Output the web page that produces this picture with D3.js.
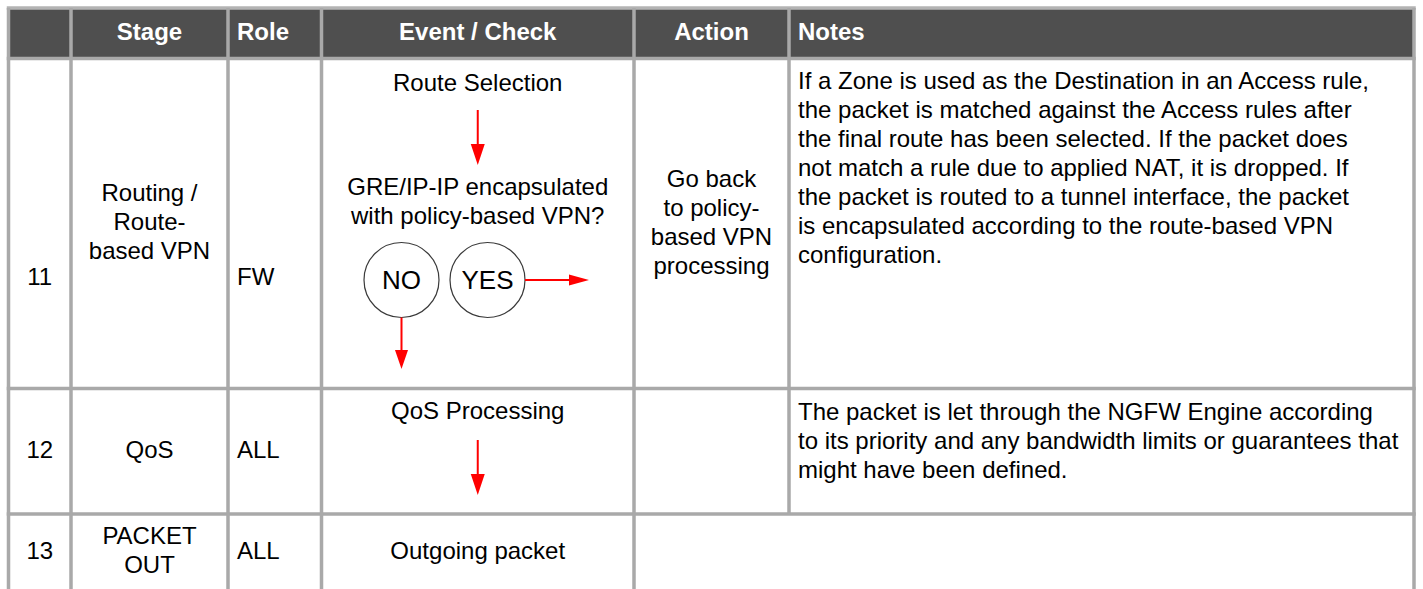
<!DOCTYPE html>
<html><head><meta charset="utf-8">
<script src="https://cdn.jsdelivr.net/npm/d3@7"></script>
<style>
html,body{margin:0;padding:0;background:#fff;}
svg{display:block;}
text{font-family:"Liberation Sans",Arial,Helvetica,sans-serif;}
</style></head>
<body>
<svg id="chart" width="1423" height="589"></svg>
<script>
// ---- data ----
const headers = ["", "Stage", "Role", "Event / Check", "Action", "Notes"];
const headerAlign = ["middle", "middle", "start", "middle", "middle", "start"];
const stepNumbers = ["11", "12", "13"];
const stages = [["Routing /", "Route-", "based VPN"], ["QoS"], ["PACKET", "OUT"]];
const roles = ["FW", "ALL", "ALL"];
const eventSteps = [
  ["Route Selection"],
  ["GRE/IP-IP encapsulated", "with policy-based VPN?"],
  ["QoS Processing"],
  ["Outgoing packet"]
];
const decisionChoices = ["NO", "YES"];
const actions = [["Go back", "to policy-", "based VPN", "processing"], [], []];
const notes = [
  ["If a Zone is used as the Destination in an Access rule,",
   "the packet is matched against the Access rules after",
   "the final route has been selected. If the packet does",
   "not match a rule due to applied NAT, it is dropped. If",
   "the packet is routed to a tunnel interface, the packet",
   "is encapsulated according to the route-based VPN",
   "configuration."],
  ["The packet is let through the NGFW Engine according",
   "to its priority and any bandwidth limits or guarantees that",
   "might have been defined."],
  []
];

// ---- layout ----
const colEdges = [8.5, 71, 228, 321.5, 634, 789, 1414];
const rowEdges = [8, 58.5, 388.5, 514, 589];
const LH = 29;          // line height
const FS = 24;          // font size
const DY = -1;          // vertical text nudge
const lineCol = "#a9a9a9";
const red = "#ff0000";

const svg = d3.select("#chart");
const colX = d3.scaleOrdinal().domain(d3.range(6)).range(colEdges.slice(0, 6));
const colW = i => colEdges[i + 1] - colEdges[i];
const colMid = i => colX(i) + colW(i) / 2;
const lineY = d3.scaleLinear().domain([0, 1]).range([0, LH]);

// header background
svg.append("rect").attr("x", colEdges[0]).attr("y", rowEdges[0])
  .attr("width", colEdges[6] - colEdges[0]).attr("height", rowEdges[1] - rowEdges[0])
  .attr("fill", "#4f4f4f");

// header texts
svg.append("g").selectAll("text").data(headers).join("text")
  .attr("x", (d, i) => headerAlign[i] === "middle" ? colMid(i) : colX(i) + 9)
  .attr("y", 32 + DY)
  .attr("text-anchor", (d, i) => headerAlign[i])
  .attr("dominant-baseline", "central")
  .attr("font-size", FS).attr("font-weight", "bold").attr("fill", "#fff")
  .text(d => d);

// grid lines
const g = svg.append("g").attr("stroke", lineCol).attr("stroke-width", 3.5).attr("fill", "none");
rowEdges.slice(0, 4).forEach((y, i) => {
  g.append("line").attr("x1", colEdges[0] - 1.75).attr("x2", colEdges[6] + 1.75)
    .attr("y1", y).attr("y2", y).attr("stroke", i === 0 ? "#b3b3b3" : lineCol);
});
colEdges.forEach((x, i) => {
  const yEnd = (i === 5) ? rowEdges[3] : 589;
  g.append("line").attr("x1", x).attr("x2", x).attr("y1", rowEdges[0]).attr("y2", yEnd);
});

// helper: multiline text
function lines(parent, arr, x, yCenter, anchor, size) {
  const n = arr.length;
  const t = parent.append("g");
  t.selectAll("text").data(arr).join("text")
    .attr("x", x)
    .attr("y", (d, i) => yCenter + DY + lineY(i - (n - 1) / 2))
    .attr("text-anchor", anchor)
    .attr("dominant-baseline", "central")
    .attr("font-size", size).attr("fill", "#000")
    .text(d => d);
  return t;
}

const body = svg.append("g");
const numY = [277, 450, 551];
const stageY = [222, 450, 551];
stepNumbers.forEach((s, r) => {
  lines(body, [s], colMid(0), numY[r], "middle", FS);
  lines(body, stages[r], colMid(1), stageY[r], "middle", FS);
  lines(body, [roles[r]], colX(2) + 9, numY[r], "start", FS);
  if (actions[r].length) lines(body, actions[r], colMid(4), 222.5, "middle", FS);
});

// notes
lines(body, notes[0], colX(5) + 9, 81 + lineY(3), "start", FS);
lines(body, notes[1], colX(5) + 9, 412 + lineY(1), "start", FS);

// event / check column
const ex = colMid(3);
lines(body, eventSteps[0], ex, 83, "middle", FS);
lines(body, eventSteps[1], ex, 187 + LH / 2, "middle", FS);
lines(body, eventSteps[2], ex, 411, "middle", FS);
lines(body, eventSteps[3], ex, 551, "middle", FS);

// arrows
function arrow(x1, y1, x2, y2, headLen, headW) {
  const a = Math.atan2(y2 - y1, x2 - x1);
  const bx = x2 - headLen * Math.cos(a), by = y2 - headLen * Math.sin(a);
  body.append("line").attr("x1", x1).attr("y1", y1).attr("x2", bx).attr("y2", by)
    .attr("stroke", red).attr("stroke-width", 2);
  const px = -Math.sin(a) * headW / 2, py = Math.cos(a) * headW / 2;
  body.append("path")
    .attr("d", `M${x2},${y2}L${bx + px},${by + py}L${bx - px},${by - py}Z`)
    .attr("fill", red);
}
arrow(ex, 110, ex, 165, 21, 14);
arrow(ex, 440, ex, 495, 21, 14);

// decision circles
const circX = d3.scalePoint().domain(decisionChoices).range([401.5, 487.5]);
const cy = 280, cr = 37.5;
body.selectAll("circle.dec").data(decisionChoices).join("circle")
  .attr("class", "dec").attr("cx", d => circX(d)).attr("cy", cy).attr("r", cr)
  .attr("fill", "#fff").attr("stroke", "#3a3a3a").attr("stroke-width", 1.2);
body.selectAll("text.dec").data(decisionChoices).join("text")
  .attr("class", "dec").attr("x", d => circX(d)).attr("y", cy)
  .attr("text-anchor", "middle").attr("dominant-baseline", "central")
  .attr("font-size", 26).attr("fill", "#000").text(d => d);
arrow(circX("NO"), cy + cr, circX("NO"), 369, 19, 13);
arrow(circX("YES") + cr, cy, 589, cy, 20, 11);
</script>
</body></html>
